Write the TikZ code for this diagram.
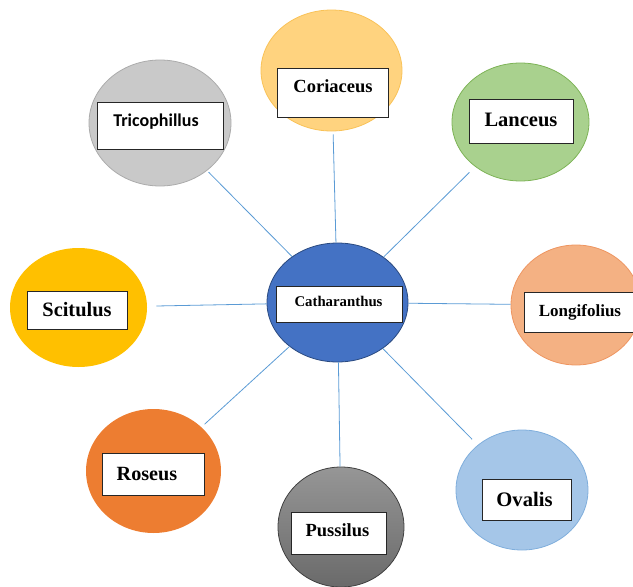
\documentclass[tikz,border=0pt]{standalone}
\usepackage{fontspec}
\setmainfont{Liberation Serif}
\newfontfamily\calibfont{Carlito}
\usetikzlibrary{shapes.geometric}
\definecolor{linkblue}{HTML}{5B9BD5}
\definecolor{triF}{HTML}{C9C9C9}\definecolor{triD}{HTML}{ABABAB}
\definecolor{corF}{HTML}{FFD37F}\definecolor{corD}{HTML}{F9C257}
\definecolor{lanF}{HTML}{A9D18E}\definecolor{lanD}{HTML}{7DB356}
\definecolor{catF}{HTML}{4472C4}\definecolor{catD}{HTML}{2A4A80}
\definecolor{lonF}{HTML}{F4B183}\definecolor{lonD}{HTML}{EE9560}
\definecolor{sciF}{HTML}{FFC000}
\definecolor{rosF}{HTML}{ED7D31}
\definecolor{pusT}{HTML}{969696}\definecolor{pusB}{HTML}{6A6A6A}\definecolor{pusD}{HTML}{404040}
\definecolor{ovaF}{HTML}{A5C6E8}\definecolor{ovaD}{HTML}{7FAEDC}
\begin{document}
\begin{tikzpicture}[x=1pt,y=-1pt,
  blob/.style={ellipse, inner sep=0pt, line width=0.8pt},
  box/.style={draw=black!85, fill=white, line width=0.9pt, inner sep=0pt},
  lbl/.style={anchor=base, inner sep=0pt, font=\bfseries},
  link/.style={draw=linkblue, line width=0.8pt}]
\useasboundingbox (0,0) rectangle (633,587);
% ellipses
\node[blob, draw=triD, fill=triF, minimum width=142pt, minimum height=126pt] (tri) at (160,123) {};
\node[blob, draw=corD, fill=corF, minimum width=141pt, minimum height=121pt] (cor) at (331.5,70.5) {};
\node[blob, draw=lanD, fill=lanF, minimum width=137pt, minimum height=118pt] (lan) at (520.5,122) {};
\node[blob, draw=catD, fill=catF, minimum width=141pt, minimum height=119pt] (cat) at (337.5,302.5) {};
\node[blob, draw=lonD, fill=lonF, minimum width=130pt, minimum height=120pt] (lon) at (576,305) {};
\node[blob, fill=sciF, minimum width=137pt, minimum height=119pt] (sci) at (78.5,307.5) {};
\node[blob, fill=rosF, minimum width=135pt, minimum height=124pt] (ros) at (153.5,471) {};
\node[blob, draw=pusD, top color=pusT, bottom color=pusB, minimum width=126pt, minimum height=120pt] (pus) at (341,527) {};
\node[blob, draw=ovaD, fill=ovaF, minimum width=132pt, minimum height=120pt] (ova) at (522,490) {};
% connectors
\draw[link, shorten >=2pt] (cat) -- (tri);
\draw[link, shorten >=3pt] (cat) -- (cor);
\draw[link, shorten >=8pt] (cat) -- (lan);
\draw[link] (cat) -- (lon);
\draw[link, shorten >=9pt] (cat) -- (sci);
\draw[link, shorten >=4pt] (cat) -- (ros);
\draw[link] (cat) -- (pus);
\draw[link, shorten >=8pt] (cat) -- (ova);
% boxes
\node[box, minimum width=126pt, minimum height=47pt] (tribox) at (160,125.5) {};
\node[box, minimum width=111pt, minimum height=49pt] (corbox) at (332.5,92.5) {};
\node[box, minimum width=104pt, minimum height=44pt] (lanbox) at (521,121) {};
\node[box, minimum width=126pt, minimum height=36pt] (catbox) at (339,304) {};
\node[box, minimum width=120pt, minimum height=40pt] (lonbox) at (584,312) {};
\node[box, minimum width=100pt, minimum height=38pt] (scibox) at (77,310) {};
\node[box, minimum width=102pt, minimum height=42pt] (rosbox) at (153,474) {};
\node[box, minimum width=95pt, minimum height=42pt] (pusbox) at (338.5,533) {};
\node[box, minimum width=89pt, minimum height=41pt] (ovabox) at (526.5,499.5) {};
% labels
\node[lbl, font=\calibfont\bfseries\fontsize{18}{20}\selectfont] (tritxt) at (156,126) {Tricophillus};
\node[lbl, font=\bfseries\fontsize{18.5}{20}\selectfont] (cortxt) at (333,92) {Coriaceus};
\node[lbl, font=\bfseries\fontsize{20.5}{22}\selectfont] (lantxt) at (521,126) {Lanceus};
\node[lbl, font=\bfseries\fontsize{14.8}{16}\selectfont] (cattxt) at (338.5,306.5) {Catharanthus};
\node[lbl, font=\bfseries\fontsize{17}{19}\selectfont] (lontxt) at (580,316) {Longifolius};
\node[lbl, font=\bfseries\fontsize{20.4}{22}\selectfont] (scitxt) at (77,316) {Scitulus};
\node[lbl, font=\bfseries\fontsize{20.2}{22}\selectfont] (rostxt) at (147,480) {Roseus};
\node[lbl, font=\bfseries\fontsize{18.5}{20}\selectfont] (pustxt) at (337.5,536) {Pussilus};
\node[lbl, font=\bfseries\fontsize{20.6}{22}\selectfont] (ovatxt) at (524.5,506) {Ovalis};
\end{tikzpicture}
\end{document}
